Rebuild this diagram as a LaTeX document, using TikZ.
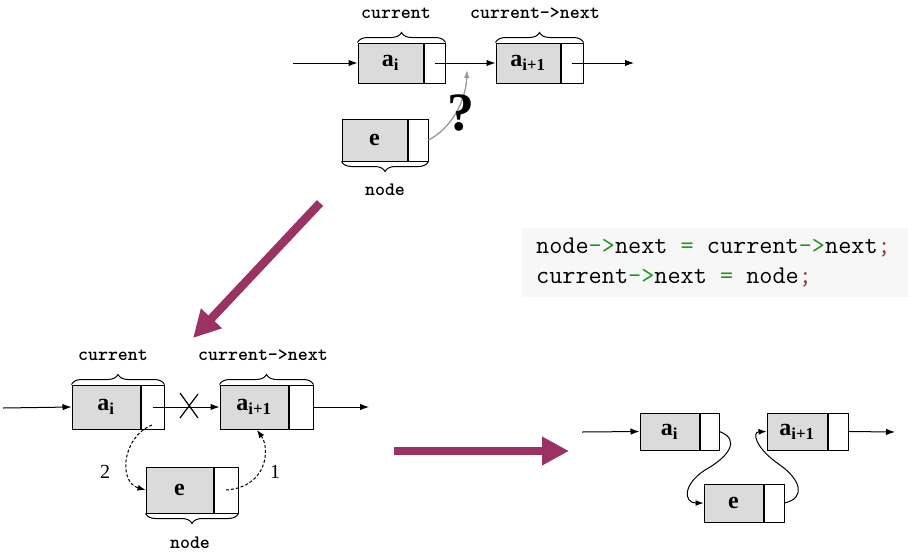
\documentclass[tikz,border=0pt]{standalone}
\usepackage{fontspec}
\setmainfont{Liberation Serif}
\usetikzlibrary{arrows.meta,decorations.pathreplacing}
\definecolor{plum}{RGB}{155,50,100}
\definecolor{codebg}{RGB}{247,247,247}
\definecolor{codegreen}{RGB}{30,150,30}
\definecolor{codesemi}{RGB}{140,60,60}
\begin{document}
\begin{tikzpicture}[x=1pt,y=-1pt,
 databox/.style={draw=black,line width=1pt,fill=black!14,inner sep=0pt,font=\fontsize{24}{24}\selectfont\bfseries},
 ptrbox/.style={draw=black,line width=1pt,fill=white,inner sep=0pt,anchor=west},
 link/.style={line width=1pt,-{Latex[length=9pt,width=6.5pt]}},
 dlink/.style={line width=1pt,dashed,dash pattern=on 3pt off 2pt,-{Latex[length=8pt,width=6pt]}},
 lbl/.style={font=\ttfamily\bfseries\fontsize{19}{19}\selectfont,inner sep=0pt},
 brc/.style={decorate,decoration={brace,amplitude=10pt},line width=1pt},
 num/.style={font=\fontsize{20}{20}\selectfont,inner sep=0pt},
 bigarrow/.style={draw=plum,line width=8.5pt,-{Triangle[length=27pt,width=27pt]}},
 codeline/.style={anchor=base west,inner sep=0pt,font=\ttfamily\fontsize{25.5}{25.5}\selectfont},
]
\fill[white] (0,0) rectangle (908,558);
\useasboundingbox (0,0) rectangle (908,558);

% ---------- top diagram ----------
\node[databox,minimum width=65pt,minimum height=40pt] (ta) at (390.5,63) {a\textsubscript{i}};
\node[ptrbox,minimum width=21pt,minimum height=40pt] (tap) at (ta.east) {};
\node[databox,minimum width=64pt,minimum height=40pt] (tb) at (528,63) {a\textsubscript{i+1}};
\node[ptrbox,minimum width=22pt,minimum height=40pt] (tbp) at (tb.east) {};
\node[databox,minimum width=65pt,minimum height=42pt] (te) at (374.5,140) {e};
\node[ptrbox,minimum width=20pt,minimum height=42pt] (tep) at (te.east) {};

\coordinate (tin) at (293,63);
\coordinate (tout) at (634,63);
\coordinate (tq) at (467,70);
\draw[link] (tin) -- (ta.west);
\draw[link] (tap.center) -- (tb.west);
\draw[link] (tbp.center) -- (tout);
\draw[black!40,line width=1.3pt,-{Latex[length=8pt,width=5.5pt]}] (tep.east) .. controls (452,128) and (466,100) .. (tq);
\node[font=\fontsize{54}{54}\selectfont\bfseries,inner sep=0pt] (qm) at (461,113) {?};

\draw[brc] (ta.north west) -- (tap.north east);
\draw[brc] (tb.north west) -- (tbp.north east);
\draw[brc] (tep.south east) -- (te.south west);
\node[lbl] (tl1) at (396,13) {current};
\node[lbl] (tl2) at (535,13) {current->next};
\node[lbl] (tl3) at (385,190) {node};

% ---------- purple arrows ----------
\coordinate (p1s) at (320,203);
\coordinate (p1e) at (193,338);
\coordinate (p2s) at (394,451);
\coordinate (p2e) at (569,451);
\draw[bigarrow] (p1s) -- (p1e);
\draw[bigarrow] (p2s) -- (p2e);

% ---------- code ----------
\fill[codebg] (522,228) rectangle (908,297);
\node[codeline] (c1) at (536,253) {node\textcolor{codegreen}{->}next \textcolor{codegreen}{=} current\textcolor{codegreen}{->}next\textcolor{codesemi}{;}};
\node[codeline] (c2) at (536,283) {current\textcolor{codegreen}{->}next \textcolor{codegreen}{=} node\textcolor{codesemi}{;}};

% ---------- bottom-left diagram ----------
\node[databox,minimum width=68pt,minimum height=44pt] (la) at (106,407) {a\textsubscript{i}};
\node[ptrbox,minimum width=23pt,minimum height=44pt] (lap) at (la.east) {};
\node[databox,minimum width=68pt,minimum height=44pt] (lb) at (254,407) {a\textsubscript{i+1}};
\node[ptrbox,minimum width=24pt,minimum height=44pt] (lbp) at (lb.east) {};
\node[databox,minimum width=67pt,minimum height=46pt] (le) at (179.5,490) {e};
\node[ptrbox,minimum width=24pt,minimum height=46pt] (lep) at (le.east) {};

\coordinate (lin) at (3,408);
\coordinate (lout) at (369,407);
\draw[link] (lin) -- (la.west);
\draw[link] (lap.center) -- (lb.west);
\draw[link] (lbp.east) -- (lout);
\coordinate (x1) at (180,393);
\coordinate (x2) at (198,418);
\coordinate (x3) at (198,394);
\coordinate (x4) at (180,418);
\draw[line width=1.2pt] (x1) -- (x2) (x3) -- (x4);

\coordinate (d2s) at (152,425);
\coordinate (d1e) at (257,430);
\draw[dlink] (d2s) .. controls (122,437) and (118,482) .. (le.west);
\draw[dlink] (lep.center) .. controls (268,487) and (270,448) .. (d1e);
\node[num] (n2) at (105,472) {2};
\node[num] (n1) at (275,472) {1};

\draw[brc] (la.north west) -- (lap.north east);
\draw[brc] (lb.north west) -- (lbp.north east);
\draw[brc] (lep.south east) -- (le.south west);
\node[lbl] (ll1) at (113,355) {current};
\node[lbl] (ll2) at (263,355) {current->next};
\node[lbl] (ll3) at (190,543) {node};

% ---------- bottom-right diagram ----------
\node[databox,minimum width=59pt,minimum height=37pt] (ra) at (669.5,431.5) {a\textsubscript{i}};
\node[ptrbox,minimum width=19pt,minimum height=37pt] (rap) at (ra.east) {};
\node[databox,minimum width=60pt,minimum height=37pt] (rb) at (797,431.5) {a\textsubscript{i+1}};
\node[ptrbox,minimum width=20pt,minimum height=37pt] (rbp) at (rb.east) {};
\node[databox,minimum width=59pt,minimum height=38pt] (re) at (733.5,503) {e};
\node[ptrbox,minimum width=20pt,minimum height=38pt] (rep) at (re.east) {};

\coordinate (rin) at (582,432);
\coordinate (rout) at (895,432);
\coordinate (rm1) at (705,470);
\coordinate (rm2) at (780,465);
\draw[link] (rin) -- (ra.west);
\draw[link] (rbp.east) -- (rout);
\draw[line width=1pt,-{Latex[length=8pt,width=6pt]}] (rap.east) .. controls (742,440) and (727,458) .. (rm1) .. controls (682,485) and (684,503) .. (re.west);
\draw[line width=1pt,-{Latex[length=8pt,width=6pt]}] (rep.east) .. controls (806,498) and (801,480) .. (rm2) .. controls (755,448) and (752,432) .. (rb.west);
\end{tikzpicture}
\end{document}
